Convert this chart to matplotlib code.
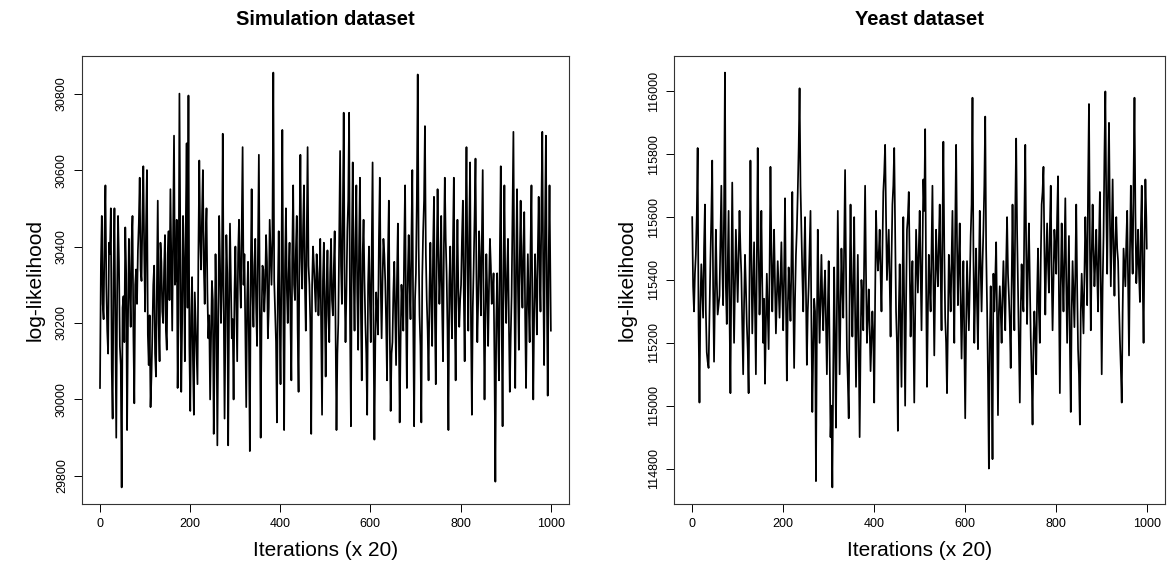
import matplotlib
matplotlib.use("Agg")
import matplotlib.pyplot as plt

plt.rcParams['font.family'] = ['Liberation Sans', 'DejaVu Sans']

# draws: every 4th iteration plus the in-between ones
iter_main = list(range(1, 1000, 4)) + [1000]
iter_mid = list(range(3, 1000, 4))

sim_main = [
    30030, 30480, 30210, 30560, 30180, 30410, 30500, 29950, 30500, 29900, 30480, 30140, 29770,
    30270, 30450, 29920, 30420, 30190, 30480, 29990, 30340, 30390, 30580, 30310, 30610,
    30230, 30600, 30090, 29980, 30170, 30350, 30060, 30520, 30100, 30360, 30200, 30430, 30130,
    30440, 30550, 30180, 30690, 30320, 30030, 30800, 30020, 30480, 30100, 30670, 30795,
    29970, 30320, 29960, 30200, 30040, 30625, 30340, 30600, 30250, 30500, 30160, 30000, 30310,
    29910, 30380, 29880, 30480, 30200, 30695, 29950, 30430, 29880, 30460, 30160, 30000,
    30400, 30100, 30470, 30240, 30660, 30380, 29980, 30360, 29865, 30550, 30190, 30420, 30140,
    30640, 29900, 30350, 30230, 30430, 30160, 30470, 30300, 30855, 30230, 29940, 30440,
    30040, 30705, 29920, 30500, 30200, 30410, 30050, 30560, 30260, 30480, 30020, 30640, 30290,
    30560, 30180, 30660, 30300, 29910, 30400, 30290, 30380, 30220, 30420, 29960, 30410,
    30060, 30390, 30150, 30420, 30220, 30440, 29920, 30200, 30650, 30250, 30750, 30150, 30440,
    30750, 29930, 30620, 30180, 30560, 30130, 30580, 30050, 30470, 30200, 29960, 30400,
    30150, 30620, 29895, 30280, 30170, 30580, 30160, 30420, 30310, 30050, 30520, 29970, 30150,
    30360, 30090, 30460, 29940, 30300, 30180, 30560, 30030, 30430, 30210, 30600, 29930,
    30330, 30850, 30220, 29940, 30440, 30715, 30260, 30050, 30410, 30140, 30530, 30040, 30550,
    30250, 30480, 30100, 30580, 30330, 29920, 30400, 30160, 30580, 30050, 30470, 30190,
    30300, 30520, 30100, 30660, 30180, 30620, 29960, 30350, 30630, 30150, 30440, 30220, 30600,
    30000, 30380, 30140, 30420, 30250, 30330, 29785, 30330, 30050, 30610, 29930, 30560,
    30200, 30420, 30020, 30270, 30700, 30030, 30550, 30130, 30520, 30240, 30490, 30030, 30380,
    30150, 30560, 30000, 30380, 30170, 30530, 30230, 30700, 30090, 30690, 30010, 30560,
    30180,
]

sim_mid = [
    30350, 30250, 30420, 30300, 30120, 30380, 30080, 30330, 30190, 30280, 30360, 30090, 30240,
    30150, 30330, 30200, 30290, 30410, 30170, 30300, 30250, 30460, 30340, 30480, 30380,
    30450, 30170, 30220, 30060, 30300, 30120, 30280, 30200, 30410, 30230, 30340, 30180, 30380,
    30260, 30360, 30430, 30300, 30470, 30210, 30390, 30200, 30350, 30450, 30240, 30140,
    30220, 30100, 30280, 30120, 30380, 30420, 30480, 30350, 30420, 30280, 30220, 30150, 30260,
    30120, 30230, 30180, 30350, 30300, 30260, 30190, 30330, 30240, 30310, 30210, 30280,
    30250, 30380, 30320, 30440, 30300, 30180, 30260, 30150, 30330, 30270, 30350, 30240, 30400,
    30260, 30210, 30340, 30290, 30360, 30240, 30380, 30420, 30310, 30150, 30280, 30220,
    30340, 30260, 30350, 30290, 30330, 30210, 30380, 30300, 30390, 30180, 30420, 30370, 30450,
    30300, 30420, 30350, 30200, 30300, 30350, 30230, 30330, 30290, 30200, 30310, 30250,
    30280, 30220, 30330, 30260, 30340, 30180, 30120, 30420, 30350, 30480, 30300, 30280, 30520,
    30200, 30400, 30330, 30420, 30280, 30400, 30240, 30380, 30310, 30120, 30300, 30260,
    30380, 30180, 30150, 30230, 30420, 30300, 30310, 30380, 30200, 30370, 30180, 30120, 30280,
    30230, 30310, 30200, 30150, 30250, 30400, 30230, 30320, 30300, 30420, 30200, 30260,
    30520, 30400, 30140, 30320, 30520, 30380, 30180, 30280, 30250, 30390, 30220, 30360, 30380,
    30330, 30240, 30400, 30420, 30180, 30300, 30250, 30400, 30230, 30300, 30280, 30260,
    30420, 30280, 30440, 30370, 30430, 30200, 30240, 30480, 30330, 30260, 30360, 30420, 30250,
    30220, 30280, 30300, 30350, 30270, 30100, 30200, 30180, 30390, 30200, 30330, 30300,
    30330, 30200, 30160, 30480, 30300, 30350, 30300, 30360, 30330, 30400, 30220, 30250, 30240,
    30400, 30250, 30230, 30290, 30380, 30350, 30500, 30340, 30450, 30300, 30350, 30320,
]

yeast_main = [
    115600, 115300, 115480, 115820, 115010, 115450, 115280, 115640, 115170, 115120, 115460, 115780, 115140,
    115560, 115290, 115350, 115700, 115320, 116060, 115260, 115620, 115040, 115710, 115200, 115560,
    115330, 115620, 115420, 115100, 115480, 115260, 115040, 115780, 115230, 115520, 115100, 115820, 115290,
    115620, 115200, 115070, 115420, 115180, 115760, 115300, 115560, 115230, 115460, 115280, 115520,
    115240, 115660, 115080, 115440, 115270, 115680, 115120, 115480, 115680, 116010, 115560, 115300, 115600,
    115130, 115380, 115620, 114980, 115340, 114760, 115560, 115200, 115480, 115240, 115430, 115100,
    115460, 114900, 114740, 115440, 114930, 115620, 115100, 115500, 115280, 115750, 115180, 114960, 115640,
    115220, 115600, 115060, 115480, 114900, 115400, 115240, 115700, 115200, 115370, 115110, 115300,
    115010, 115620, 115430, 115560, 115300, 115680, 115830, 115400, 115560, 115220, 115640, 115820, 115300,
    114920, 115450, 115060, 115600, 115000, 115560, 115680, 115220, 115460, 115010, 115560, 115360,
    115620, 115240, 115720, 115880, 115060, 115480, 115300, 115700, 115160, 115560, 115380, 115640, 115240,
    115840, 115280, 115040, 115480, 115300, 115620, 115200, 115830, 115320, 115580, 115150, 115460,
    114960, 115460, 115240, 115540, 115980, 115200, 115500, 115180, 115620, 115300, 115560, 115920, 115320,
    114800, 115380, 114830, 115300, 115520, 114970, 115380, 115200, 115460, 115240, 115600, 115350,
    115120, 115640, 115240, 115850, 115380, 115010, 115450, 115300, 115830, 115260, 115580, 115220, 114940,
    115300, 115100, 115500, 115200, 115640, 115760, 115290, 115580, 115360, 115700, 115240, 115560,
    115420, 115730, 115040, 115580, 115300, 115660, 115200, 115540, 114980, 115460, 115250, 115640, 115180,
    114940, 115420, 115230, 115600, 115320, 115960, 115240, 115640, 115380, 115560, 115300, 115680,
    115100, 115540, 116000, 115420, 115900, 115380, 115720, 115350, 115600, 115460, 115210, 115010, 115500,
    115380, 115620, 115160, 115700, 115420, 115980, 115390, 115560, 115330, 115700, 115200, 115720,
    115500,
]

yeast_mid = [
    115380, 115420, 115600, 115260, 115320, 115360, 115500, 115300, 115140, 115290, 115600, 115380, 115350,
    115400, 115320, 115520, 115460, 115620, 115380, 115450, 115300, 115400, 115420, 115380, 115450,
    115480, 115500, 115250, 115320, 115380, 115180, 115420, 115480, 115380, 115300, 115460, 115500, 115420,
    115380, 115340, 115260, 115300, 115420, 115500, 115420, 115380, 115340, 115370, 115400, 115360,
    115420, 115340, 115300, 115360, 115450, 115360, 115340, 115560, 115820, 115700, 115420, 115460, 115350,
    115300, 115500, 115260, 115180, 115300, 115240, 115350, 115340, 115330, 115360, 115270, 115300,
    115180, 115000, 115120, 115200, 115300, 115350, 115300, 115380, 115520, 115440, 115080, 115360, 115400,
    115380, 115300, 115280, 115200, 115180, 115330, 115460, 115420, 115280, 115250, 115200, 115220,
    115340, 115500, 115480, 115420, 115500, 115740, 115600, 115480, 115400, 115460, 115700, 115560, 115200,
    115300, 115250, 115380, 115300, 115320, 115600, 115440, 115360, 115260, 115300, 115460, 115500,
    115420, 115480, 115620, 115400, 115300, 115380, 115500, 115400, 115380, 115450, 115520, 115420, 115560,
    115500, 115200, 115260, 115400, 115460, 115380, 115560, 115520, 115460, 115330, 115320, 115200,
    115250, 115350, 115380, 115640, 115500, 115360, 115320, 115420, 115440, 115450, 115700, 115500, 115100,
    115200, 115160, 115420, 115400, 115280, 115300, 115300, 115350, 115340, 115450, 115420, 115260,
    115380, 115420, 115620, 115560, 115220, 115300, 115350, 115600, 115500, 115450, 115400, 115100, 115200,
    115220, 115350, 115300, 115460, 115680, 115500, 115460, 115450, 115560, 115420, 115400, 115500,
    115600, 115350, 115380, 115420, 115480, 115400, 115380, 115200, 115300, 115350, 115420, 115380, 115100,
    115300, 115320, 115420, 115480, 115700, 115520, 115480, 115500, 115460, 115420, 115520, 115380,
    115380, 115800, 115640, 115700, 115600, 115560, 115500, 115520, 115500, 115320, 115120, 115300, 115440,
    115520, 115380, 115480, 115540, 115720, 115620, 115460, 115420, 115560, 115400, 115520, 115600,
]


def merge(xa, ya, xb, yb):
    pairs = sorted(zip(xa + xb, ya + yb))
    return [p[0] for p in pairs], [p[1] for p in pairs]


panels = [
    ("Simulation dataset", merge(iter_main, sim_main, iter_mid, sim_mid),
     [29800, 30000, 30200, 30400, 30600, 30800]),
    ("Yeast dataset", merge(iter_main, yeast_main, iter_mid, yeast_mid),
     [114800, 115000, 115200, 115400, 115600, 115800, 116000]),
]
x_ticks = [0, 200, 400, 600, 800, 1000]

fig = plt.figure(figsize=(11.74, 5.72), dpi=100)
lefts = [0.0698, 0.5741]
widths = [0.4148, 0.4182]

for (title, (xs, values), y_ticks), left, width in zip(panels, lefts, widths):
    ax = fig.add_axes([left, 0.1189, width, 0.7832])
    ax.plot(xs, values, color="black", linewidth=1.25)
    lo, hi = min(values), max(values)
    pad = (hi - lo) * 0.04
    ax.set_ylim(lo - pad, hi + pad)
    ax.set_xlim(1 - 40, 1000 + 40)
    ax.set_xticks(x_ticks)
    ax.set_yticks(y_ticks)
    ax.set_yticklabels([str(t) for t in y_ticks], rotation=90, va="center")
    ax.tick_params(labelsize=9, length=6, width=0.7, pad=4)
    for s in ax.spines.values():
        s.set_linewidth(0.8)
        s.set_color("#333333")
    ax.set_title(title, fontsize=14.5, fontweight="bold", pad=22)
    ax.set_xlabel("Iterations (x 20)", fontsize=15, labelpad=8)
    ax.set_ylabel("log-likelihood", fontsize=15, labelpad=8)

fig.savefig("out.png", dpi=100)
